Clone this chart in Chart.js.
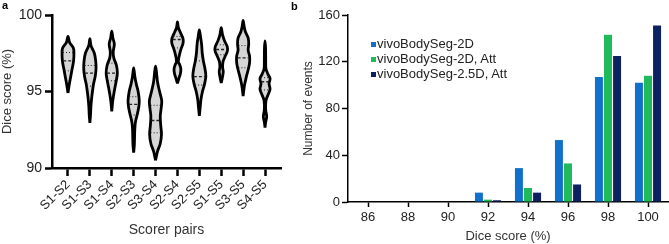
<!DOCTYPE html>
<html>
<head>
<meta charset="utf-8">
<script src="https://cdn.jsdelivr.net/npm/chart.js@4.4.1/dist/chart.umd.min.js"></script>
<style>
  body { margin: 0; background: #fff; width: 669px; height: 244px; overflow: hidden; position: relative;
         font-family: "Liberation Sans", Arial, sans-serif; }
  canvas { position: absolute; top: 0; }
  #ca { left: 0; }
  #cb { left: 290px; }
  .tag { position: absolute; font-weight: bold; font-size: 11px; line-height: 11px; color: #000; }
  #legend { position: absolute; left: 371px; top: 36px; font-size: 13px; color: #222; }
  #legend div { height: 15px; line-height: 15px; white-space: nowrap; }
  #legend span { display: inline-block; width: 5px; height: 5px; margin-right: 1px; vertical-align: 1px; }
</style>
</head>
<body>
<canvas id="ca" width="290" height="244"></canvas>
<canvas id="cb" width="379" height="244"></canvas>
<div class="tag" style="left:2px;top:0px">a</div>
<div class="tag" style="left:291px;top:1px">b</div>
<div id="legend"></div>
<script>
// panel a: dice score per scorer pair (violin profiles)
const pairs = ['S1-S2', 'S1-S3', 'S1-S4', 'S2-S3', 'S3-S4', 'S2-S4', 'S2-S5', 'S1-S5', 'S3-S5', 'S4-S5'];
const violinLevels = [
  [94.9, 95.3, 95.8, 96.4, 97.0, 97.5, 97.85, 98.2, 98.6],
  [92.95, 93.5, 94.0, 94.5, 95.0, 95.5, 96.0, 96.5, 97.0, 97.5, 98.0, 98.45],
  [93.7, 94.4, 95.0, 95.7, 96.2, 96.7, 97.2, 97.6, 98.1, 98.5, 98.95],
  [91.0, 91.5, 92.0, 92.5, 93.0, 93.5, 94.0, 94.4, 95.0, 95.5, 96.0, 96.55],
  [90.5, 91.1, 91.6, 92.2, 92.8, 93.4, 93.9, 94.4, 95.0, 95.6, 96.2, 96.65],
  [95.53, 95.9, 96.2, 96.5, 96.75, 96.95, 97.4, 97.8, 98.15, 98.45, 98.8, 99.15, 99.55],
  [93.4, 94.0, 94.5, 95.0, 95.5, 96.0, 96.5, 97.0, 97.5, 98.1, 98.6, 99.03],
  [95.55, 95.9, 96.3, 96.6, 96.95, 97.3, 97.65, 97.95, 98.3, 98.7, 99.17],
  [94.7, 95.4, 96.0, 96.5, 96.9, 97.3, 97.7, 98.1, 98.5, 98.9, 99.25, 99.65],
  [92.65, 93.0, 93.35, 93.8, 94.4, 94.8, 95.15, 95.5, 95.85, 96.15, 96.5, 97.0, 97.8, 98.3]
];
const violinDensity = [
  [0, 0.8, 2, 3.5, 5, 5.3, 4.8, 1.5, 0],
  [0, 0.6, 0.9, 1.5, 2.3, 3.3, 4.8, 5.5, 5.2, 4, 1, 0],
  [0, 0.9, 2.2, 4, 5, 4.2, 1.8, 1.3, 2.3, 1, 0],
  [0, 0.6, 0.8, 1, 1.6, 3.2, 4.6, 5, 4, 2.3, 1, 0],
  [0, 1.8, 4.2, 5.3, 4.6, 4.2, 5, 5.5, 3.6, 1.8, 0.9, 0],
  [0, 1.5, 2.7, 3, 2, 0.8, 1.8, 3.3, 5, 5, 3, 0.9, 0],
  [0, 0.8, 1.5, 2.8, 4.7, 5.8, 5, 3.6, 2.6, 2, 1, 0],
  [0, 1, 1.8, 1.2, 1.6, 3.5, 5.5, 5.3, 3, 1.2, 0],
  [0, 1.2, 3, 4.8, 5.8, 5.8, 4.5, 5, 4.5, 2, 0.9, 0],
  [0, 0.6, 1.5, 0.6, 0.8, 2.8, 4.5, 3.6, 4.5, 2.5, 0.8, 0.6, 0.5, 0]
];
const medians = [97.0, 96.2, 96.2, 94.16, 93.1, 98.4, 95.97, 97.75, 97.2, 95.64];
const lowerQuartiles = [96.35, 95.35, 95.7, 93.46, 92.3, 97.85, 95.42, 97.4, 96.55, 95.1];
const upperQuartiles = [97.55, 96.7, 96.85, 94.66, 94.1, 98.6, 97.0, 98.05, 98.0, 95.9];

// panel b: histogram of dice scores
const scoreBins = ['86', '88', '90', '92', '94', '96', '98', '100'];
const seriesNames = ['vivoBodySeg-2D', 'vivoBodySeg-2D, Att', 'vivoBodySeg-2.5D, Att'];
const events2D = [0, 0, 0, 8, 29, 53, 107, 102];
const events2DAtt = [0, 0, 0, 2, 12, 33, 143, 108];
const events25DAtt = [0, 0, 0, 1.5, 8, 15, 125, 151];
const seriesColors = ['#1170c9', '#1fba5b', '#0c2160'];

Chart.defaults.font.family = "'Liberation Sans', Arial, sans-serif";
Chart.defaults.animation = false;

const densityToX = 1.12 / 21.9; // density units -> x-axis units

function halfWidthAt(i, y) {
  const lv = violinLevels[i], d = violinDensity[i];
  for (let j = 0; j < lv.length - 1; j++) {
    if (y >= lv[j] && y <= lv[j + 1]) {
      const t = (y - lv[j]) / (lv[j + 1] - lv[j]);
      return (d[j] + t * (d[j + 1] - d[j])) * densityToX;
    }
  }
  return 0;
}

const violinSets = [];
pairs.forEach((p, i) => {
  const pos = i + 1, lv = violinLevels[i], d = violinDensity[i];
  const pts = [];
  for (let j = 0; j < lv.length; j++) pts.push({ x: pos + d[j] * densityToX, y: lv[j] });
  for (let j = lv.length - 2; j >= 0; j--) pts.push({ x: pos - d[j] * densityToX, y: lv[j] });
  violinSets.push({
    label: p, data: pts, borderColor: '#000', borderWidth: 2.8, backgroundColor: '#d6d6d6',
    fill: 'shape', tension: 0.35, pointRadius: 0, order: 2
  });
  const lines = [[medians[i], [3, 2], 1.4], [lowerQuartiles[i], [1, 2], 1], [upperQuartiles[i], [1, 2], 1]];
  lines.forEach(([y, dash, w]) => {
    const hw = halfWidthAt(i, y) * 0.85;
    violinSets.push({
      label: p + ' q', data: [{ x: pos - hw, y: y }, { x: pos + hw, y: y }],
      borderColor: '#222', borderWidth: w, borderDash: dash, pointRadius: 0, fill: false, order: 1
    });
  });
});

new Chart(document.getElementById('ca'), {
  type: 'line',
  data: { datasets: violinSets },
  options: {
    responsive: false,
    events: [],
    layout: { padding: { top: 15, right: 9, left: 0, bottom: 0 } },
    plugins: { legend: { display: false }, tooltip: { enabled: false } },
    scales: {
      x: {
        type: 'linear', min: 0.27, max: 10.73,
        grid: { display: true, drawOnChartArea: false, tickLength: 8, tickWidth: 2.5, tickColor: '#000' },
        border: { color: '#000', width: 2.5 },
        ticks: { stepSize: 1, includeBounds: false, autoSkip: false, minRotation: 45, maxRotation: 45, padding: 1,
                 color: '#222', font: { size: 13 }, callback: v => pairs[v - 1] },
        title: { display: true, text: 'Scorer pairs', color: '#333', font: { size: 14 }, padding: { top: 0, bottom: 5 } },
        afterFit(s) { s.height = 76; }
      },
      y: {
        min: 90, max: 100,
        grid: { display: true, drawOnChartArea: false, tickLength: 7, tickWidth: 2.5, tickColor: '#000' },
        border: { color: '#000', width: 2.5 },
        ticks: { stepSize: 5, color: '#222', font: { size: 14 }, padding: 3 },
        title: { display: true, text: 'Dice score (%)', color: '#333', font: { size: 13 }, padding: { top: 0, bottom: 0 } },
        afterFit(s) { s.width = 52; }
      }
    }
  }
});

const chartB = new Chart(document.getElementById('cb'), {
  type: 'bar',
  data: {
    labels: scoreBins,
    datasets: [events2D, events2DAtt, events25DAtt].map((d, i) => ({
      label: seriesNames[i], data: d, backgroundColor: seriesColors[i],
      categoryPercentage: 0.68, barPercentage: 0.88
    }))
  },
  options: {
    responsive: false,
    events: [],
    layout: { padding: { top: 15, right: 1, left: 0, bottom: 0 } },
    plugins: { legend: { display: false }, tooltip: { enabled: false } },
    scales: {
      x: {
        grid: { display: true, offset: false, drawOnChartArea: false, tickLength: 5, tickWidth: 1.5, tickColor: '#000' },
        border: { color: '#000', width: 1.5 },
        ticks: { color: '#222', font: { size: 13 }, padding: 3, maxRotation: 0 },
        title: { display: true, text: 'Dice score (%)', color: '#333', font: { size: 13 }, padding: { top: 0, bottom: 0 } },
        afterFit(s) { s.height = 42; }
      },
      y: {
        min: 0, max: 160,
        grid: { display: true, drawOnChartArea: false, tickLength: 6, tickWidth: 1.5, tickColor: '#000' },
        border: { color: '#000', width: 1.5 },
        ticks: { stepSize: 40, color: '#222', font: { size: 13 }, padding: 2 },
        title: { display: true, text: 'Number of events', color: '#333', font: { size: 12 }, padding: { top: 11, bottom: 0 } },
        afterFit(s) { s.width = 58; }
      }
    }
  }
});

const legend = document.getElementById('legend');
chartB.data.datasets.forEach(ds => {
  const row = document.createElement('div');
  const sw = document.createElement('span');
  sw.style.background = ds.backgroundColor;
  row.appendChild(sw);
  row.appendChild(document.createTextNode(ds.label));
  legend.appendChild(row);
});
</script>
</body>
</html>
